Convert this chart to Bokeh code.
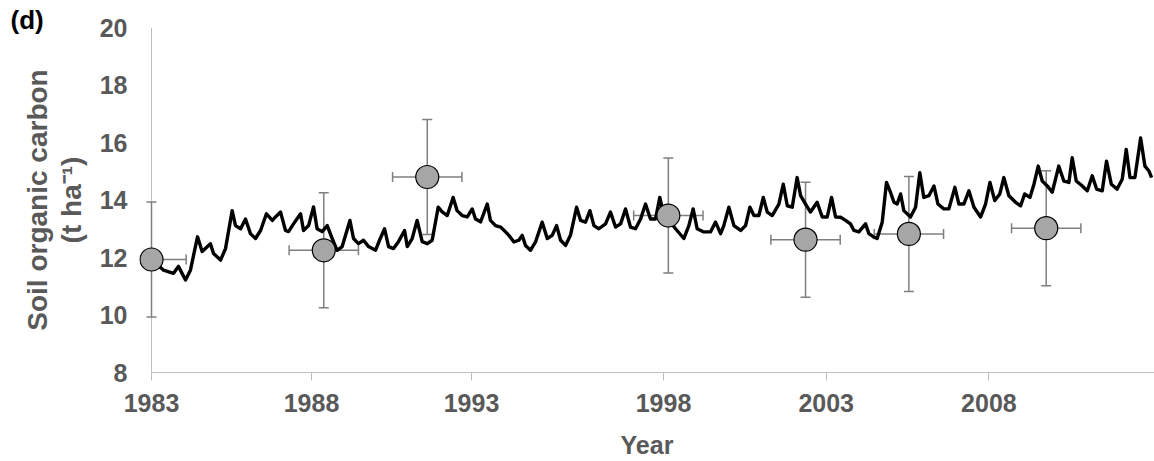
from bokeh.plotting import figure
from bokeh.models import (Range1d, FixedTicker, Span, Whisker, TeeHead, ColumnDataSource, Title)
from bokeh.embed import file_html
from bokeh.resources import INLINE

# ---- data ----
# x positions are the chart's category index (monthly steps of the model series)
tick_index = [0, 60, 120, 192, 253, 314]
tick_years = ["1983", "1988", "1993", "1998", "2003", "2008"]

model_index = [0, 4.5, 8.25, 10.1, 12.75, 14.6, 17.25, 19.0, 22.1, 23.25, 25.9, 27.75, 30.25, 31.5,
               33.4, 35.25, 37.1, 39.0, 40.9, 43.1, 45.3, 46.5, 48.4, 50.25, 51.4, 53.25, 55.9,
               57.0, 58.9, 60.75, 62.1, 64.0, 65.9, 67.75, 69.6, 71.5, 74.4, 75.75, 77.6, 79.5,
               81.4, 84.0, 85.5, 87.4, 88.9, 90.75, 92.6, 94.9, 95.9, 97.75, 99.6, 101.5, 103.4,
               105.25, 107.5, 109.0, 110.9, 113.1, 114.6, 116.5, 118.4, 120.25, 121.5, 123.4,
               125.9, 127.1, 129.0, 130.9, 132.75, 134.0, 135.9, 137.75, 139.0, 140.25, 142.1,
               144.0, 146.5, 148.4, 150.25, 151.9, 153.4, 155.25, 157.1, 159.4, 160.9, 162.75,
               164.4, 165.9, 167.75, 170.25, 172.1, 174.0, 175.9, 177.75, 179.6, 181.5, 183.4,
               185.25, 187.1, 189.0, 190.6, 192.1, 194.0, 196.5, 199.6, 201.5, 203.1, 204.6,
               207.1, 209.6, 211.5, 213.4, 214.6, 216.5, 218.4, 220.9, 222.75, 224.4, 225.9,
               227.75, 229.4, 230.9, 232.75, 235.25, 236.9, 238.4, 240.25, 242.1, 243.4, 245.25,
               247.1, 249.6, 251.5, 253.4, 255.0, 256.5, 258.4, 260.25, 262.1, 263.4, 265.25,
               267.75, 269.0, 270.9, 272.1, 274.0, 275.6, 276.9, 278.4, 279.6, 280.9, 282.1,
               284.6, 286.5, 288.1, 289.6, 291.5, 293.4, 294.9, 297.1, 299.0, 301.25, 302.75,
               304.6, 306.5, 308.4, 310.9, 312.75, 314.4, 316.2, 318.1, 319.6, 321.5, 324.0,
               325.9, 327.4, 329.4, 330.9, 332.5, 334.0, 335.9, 337.75, 340.2, 342.1, 344.0,
               345.25, 346.75, 349.0, 350.9, 352.75, 354.4, 356.5, 358.1, 359.9, 362.1, 364.0,
               365.5, 366.9, 368.75, 370.9, 372.5, 374.0, 375.0]
model_soc = [11.95, 11.56, 11.45, 11.69, 11.22, 11.56, 12.72, 12.21, 12.48, 12.14, 11.91, 12.31,
             13.63, 13.11, 13.0, 13.34, 12.83, 12.66, 12.94, 13.52, 13.29, 13.41, 13.58, 12.94,
             12.90, 13.17, 13.52, 12.94, 13.11, 13.76, 13.0, 12.90, 13.11, 12.66, 12.25, 12.38,
             13.29, 12.66, 12.48, 12.60, 12.38, 12.25, 12.60, 13.0, 12.38, 12.31, 12.55, 12.94,
             12.38, 12.66, 13.29, 12.55, 12.48, 12.60, 13.75, 13.59, 13.46, 14.09, 13.63, 13.46,
             13.41, 13.69, 13.34, 13.24, 13.86, 13.29, 13.11, 13.06, 12.89, 12.77, 12.54, 12.60,
             12.77, 12.42, 12.25, 12.54, 13.23, 12.66, 12.77, 13.11, 12.60, 12.42, 12.77, 13.75,
             13.29, 13.23, 13.63, 13.11, 13.0, 13.17, 13.58, 13.06, 13.17, 13.69, 13.06, 13.0,
             13.34, 13.86, 13.34, 13.34, 14.09, 13.46, 13.3, 13.0, 12.66, 13.11, 13.69, 13.0,
             12.89, 12.89, 13.23, 12.83, 13.11, 13.75, 13.11, 12.94, 13.11, 13.75, 13.46, 13.46,
             14.09, 13.58, 13.46, 13.86, 14.55, 13.80, 13.75, 14.78, 14.15, 13.86, 13.58, 13.92,
             13.41, 13.41, 14.09, 13.41, 13.40, 13.29, 13.17, 12.94, 12.89, 13.17, 12.83, 12.71,
             12.66, 13.23, 14.61, 14.32, 13.92, 13.86, 14.21, 13.63, 13.41, 13.75, 14.95, 14.09,
             14.15, 14.49, 13.86, 13.69, 13.69, 14.44, 13.86, 13.86, 14.32, 13.75, 13.41, 13.86,
             14.61, 13.98, 14.21, 14.78, 14.15, 13.92, 13.80, 14.21, 14.09, 14.55, 15.18, 14.66,
             14.49, 14.27, 15.18, 14.66, 14.61, 15.47, 14.66, 14.49, 14.32, 14.84, 14.38, 14.32,
             15.35, 14.55, 14.38, 14.72, 15.76, 14.78, 14.78, 16.16, 15.18, 15.01, 14.78]

obs_index = [0, 64.6, 103.4, 193.8, 245.25, 284.0, 335.5]
obs_soc = [11.93, 12.25, 14.80, 13.46, 12.62, 12.82, 13.02]
obs_soc_err = [2.0, 2.0, 2.0, 2.0, 2.0, 2.0, 2.0]
obs_index_err = [13, 13, 13, 13, 13, 13, 13]

y_ticks = [8, 10, 12, 14, 16, 18, 20]

# ---- figure ----
GRAY_TXT = "#595959"
AXIS_GRAY = "#BFBFBF"
FONT = "Liberation Sans"

p = figure(width=1154, height=461, output_backend="svg", toolbar_location=None,
           x_range=Range1d(-4.5, 376.1), y_range=Range1d(8, 20),
           min_border_left=139, min_border_right=0, min_border_top=27, min_border_bottom=86)
p.outline_line_color = None
p.xgrid.visible = False
p.ygrid.visible = False
p.background_fill_color = "white"
p.border_fill_color = "white"

# panel label "(d)" as the plot title, pulled to the left edge
p.title.text = "(d)"
p.title.align = "left"
p.title.offset = -129
p.title.standoff = -14
p.title.text_font = FONT
p.title.text_font_size = "26px"
p.title.text_font_style = "bold"
p.title.text_color = "black"

# x axis
xa = p.xaxis[0]
xa.ticker = FixedTicker(ticks=tick_index)
xa.major_label_overrides = {t: lab for t, lab in zip(tick_index, tick_years)}
xa.minor_tick_line_color = None
xa.major_tick_in = 0
xa.major_tick_out = 8
xa.major_tick_line_color = AXIS_GRAY
xa.axis_line_color = AXIS_GRAY
xa.bounds = (0, 376.1)
xa.major_label_text_font = FONT
xa.major_label_text_font_size = "25px"
xa.major_label_text_font_style = "bold"
xa.major_label_text_color = GRAY_TXT
xa.major_label_standoff = 13
xa.axis_label = "Year"
xa.axis_label_text_font = FONT
xa.axis_label_text_font_size = "25px"
xa.axis_label_text_font_style = "bold"
xa.axis_label_text_color = GRAY_TXT
xa.axis_label_standoff = 16

# y axis (line drawn at x = 0 with a span)
ya = p.yaxis[0]
ya.ticker = FixedTicker(ticks=y_ticks)
ya.axis_line_color = None
ya.major_tick_line_color = None
ya.minor_tick_line_color = None
ya.major_tick_in = 0
ya.major_tick_out = 0
ya.major_label_standoff = 12
ya.major_label_text_font = FONT
ya.major_label_text_font_size = "25px"
ya.major_label_text_font_style = "bold"
ya.major_label_text_color = GRAY_TXT
ya.axis_label = "(t ha\u207b\u00b9)"
ya.axis_label_text_font = FONT
ya.axis_label_text_font_size = "28px"
ya.axis_label_text_font_style = "bold"
ya.axis_label_text_color = GRAY_TXT
ya.axis_label_standoff = 10

p.add_layout(Title(text="Soil organic carbon", align="center", text_font=FONT,
                   text_font_size="28px", text_font_style="bold", text_color=GRAY_TXT,
                   standoff=0), "left")

p.add_layout(Span(location=0, dimension="height", line_color=AXIS_GRAY, line_width=1,
                  level="underlay"))

# error bars
src = ColumnDataSource(dict(
    x=obs_index, y=obs_soc,
    ylo=[v - e for v, e in zip(obs_soc, obs_soc_err)],
    yhi=[v + e for v, e in zip(obs_soc, obs_soc_err)],
    xlo=[v - e for v, e in zip(obs_index, obs_index_err)],
    xhi=[v + e for v, e in zip(obs_index, obs_index_err)],
))
ERR = "#7F7F7F"
for dim, base, lo, hi in (("height", "x", "ylo", "yhi"), ("width", "y", "xlo", "xhi")):
    w = Whisker(source=src, base=base, lower=lo, upper=hi, dimension=dim,
                line_color=ERR, line_width=1.5,
                upper_head=TeeHead(size=10, line_color=ERR, line_width=1.5),
                lower_head=TeeHead(size=10, line_color=ERR, line_width=1.5))
    p.add_layout(w)

# model line
p.line(model_index, model_soc, line_color="black", line_width=3.4, line_join="round")

# observations
p.scatter("x", "y", source=src, size=23, fill_color="#A6A6A6", line_color="black",
          line_width=1.2)

open("out.html", "w").write(file_html(p, INLINE))
